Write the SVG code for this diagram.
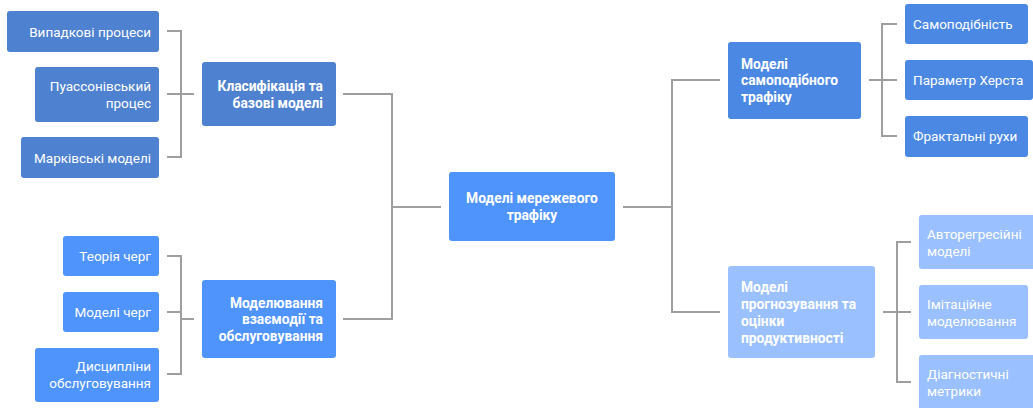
<svg xmlns="http://www.w3.org/2000/svg" width="1033" height="408" viewBox="0 0 1033 408">
  <style>
    .box { stroke: none; }
    .c-dark { fill: #4e81cf; }
    .c-bright { fill: #4f93fd; }
    .c-mid { fill: #4b88e4; }
    .c-light { fill: #9ac0ff; }
    text { font-family: Roboto, "Liberation Sans", Arial, sans-serif; font-size: 13.5px; fill: #ffffff; dominant-baseline: central; }
    .b { font-weight: bold; font-size: 13.8px; }
    .r { text-anchor: end; }
    .m { text-anchor: middle; }
    .links path { fill: none; stroke: #9e9e9e; stroke-width: 2; }
  </style>
  <rect width="1033" height="408" fill="#ffffff"/>

  <g class="links">
    <!-- left upper branch -->
    <path d="M167 31H181V157H167M167 94H194"/>
    <!-- left lower branch -->
    <path d="M167 256H181V374H167M167 312H181M181 319H194"/>
    <!-- left parents to root -->
    <path d="M343 94H392V319H343M392 207H441"/>
    <!-- root to right parents -->
    <path d="M623 207H672M720 80H672V312H720"/>
    <!-- right upper branch -->
    <path d="M869 80H897M897 24H882V136H897"/>
    <!-- right lower branch -->
    <path d="M883 312H911M911 242H897V382H911"/>
  </g>

  <g id="root">
    <rect class="box c-bright" x="449" y="172" width="166" height="69" rx="3"/>
    <text class="b m" x="532" y="198">Моделі мережевого</text>
    <text class="b m" x="532" y="215">трафіку</text>
  </g>

  <g id="classification">
    <rect class="box c-dark" x="202" y="62" width="134" height="64" rx="3"/>
    <text class="b r" x="323" y="86">Класифікація та</text>
    <text class="b r" x="323" y="103">базові моделі</text>
  </g>
  <g id="random-processes">
    <rect class="box c-dark" x="7" y="11" width="152" height="41" rx="3"/>
    <text class="r" x="151" y="31.5">Випадкові процеси</text>
  </g>
  <g id="poisson">
    <rect class="box c-dark" x="35" y="67" width="124" height="55" rx="3"/>
    <text class="r" x="151" y="86">Пуассонівський</text>
    <text class="r" x="151" y="103">процес</text>
  </g>
  <g id="markov">
    <rect class="box c-dark" x="21" y="137" width="138" height="41" rx="3"/>
    <text class="r" x="151" y="157.5">Марківські моделі</text>
  </g>

  <g id="interaction">
    <rect class="box c-bright" x="202" y="280" width="134" height="78" rx="3"/>
    <text class="b r" x="323" y="302.5">Моделювання</text>
    <text class="b r" x="323" y="319">взаємодії та</text>
    <text class="b r" x="323" y="335.5">обслуговування</text>
  </g>
  <g id="queue-theory">
    <rect class="box c-bright" x="63" y="236" width="96" height="40" rx="3"/>
    <text class="r" x="151" y="256">Теорія черг</text>
  </g>
  <g id="queue-models">
    <rect class="box c-bright" x="63" y="292" width="96" height="40" rx="3"/>
    <text class="r" x="151" y="312">Моделі черг</text>
  </g>
  <g id="disciplines">
    <rect class="box c-bright" x="35" y="348" width="124" height="54" rx="3"/>
    <text class="r" x="151" y="366">Дисципліни</text>
    <text class="r" x="151" y="383">обслуговування</text>
  </g>

  <g id="self-similar">
    <rect class="box c-mid" x="728" y="42" width="133" height="77" rx="3"/>
    <text class="b" x="741" y="63.5">Моделі</text>
    <text class="b" x="741" y="80">самоподібного</text>
    <text class="b" x="741" y="96.5">трафіку</text>
  </g>
  <g id="self-similarity">
    <rect class="box c-mid" x="905" y="4" width="123" height="40" rx="3"/>
    <text x="913" y="24">Самоподібність</text>
  </g>
  <g id="hurst">
    <rect class="box c-mid" x="905" y="60" width="128" height="40" rx="3"/>
    <text x="913" y="80">Параметр Херста</text>
  </g>
  <g id="fractal">
    <rect class="box c-mid" x="905" y="116" width="123" height="41" rx="3"/>
    <text x="913" y="136">Фрактальні рухи</text>
  </g>

  <g id="forecasting">
    <rect class="box c-light" x="728" y="266" width="147" height="92" rx="3"/>
    <text class="b" x="741" y="287">Моделі</text>
    <text class="b" x="741" y="304">прогнозування та</text>
    <text class="b" x="741" y="321">оцінки</text>
    <text class="b" x="741" y="337.5">продуктивності</text>
  </g>
  <g id="autoregressive">
    <rect class="box c-light" x="919" y="215" width="117" height="54" rx="3"/>
    <text x="927" y="233.5">Авторегресійні</text>
    <text x="927" y="250.5">моделі</text>
  </g>
  <g id="simulation">
    <rect class="box c-light" x="919" y="285" width="109" height="54" rx="3"/>
    <text x="927" y="303.5">Імітаційне</text>
    <text x="927" y="320.5">моделювання</text>
  </g>
  <g id="diagnostics">
    <rect class="box c-light" x="919" y="355" width="117" height="56" rx="3"/>
    <text x="927" y="373.5">Діагностичні</text>
    <text x="927" y="390.5">метрики</text>
  </g>
</svg>
